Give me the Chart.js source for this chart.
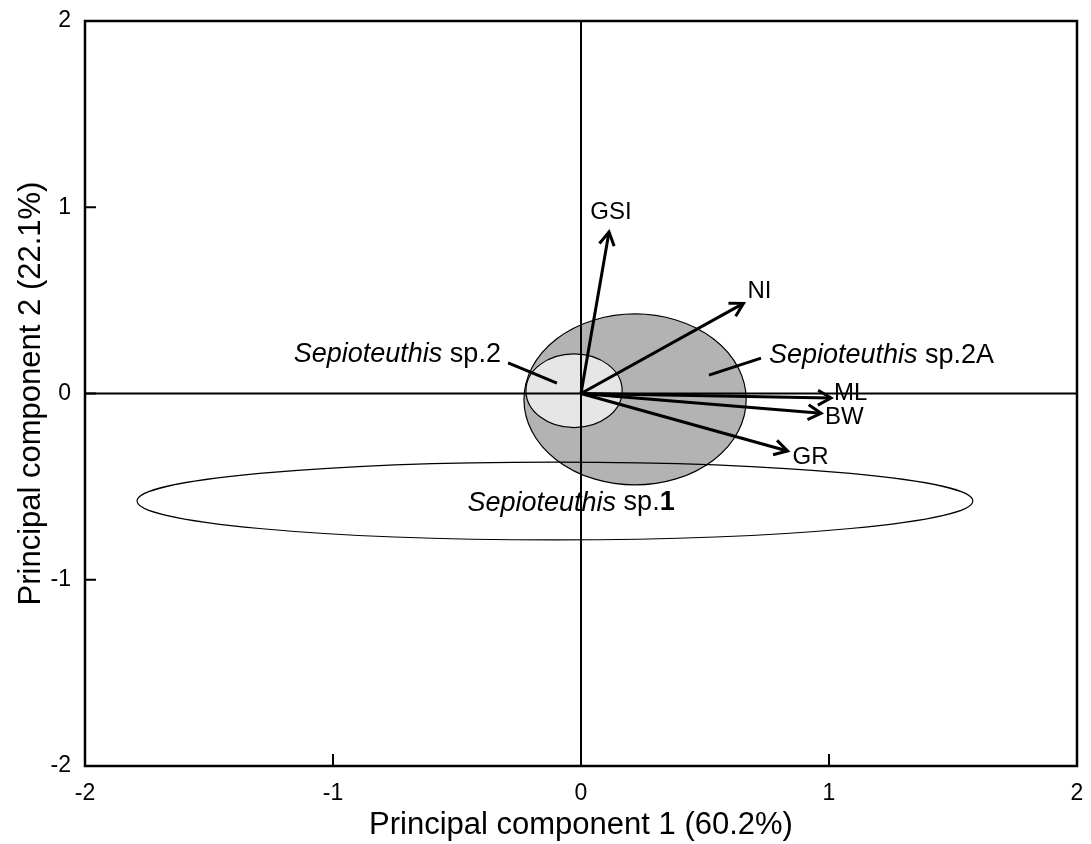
<!DOCTYPE html>
<html><head><meta charset="utf-8">
<script src="https://cdn.jsdelivr.net/npm/chart.js@4/dist/chart.umd.min.js"></script>
<style>html,body{margin:0;padding:0;background:#fff}#wrap{width:1091px;height:844px;position:relative}</style>
</head><body><div id="wrap"><canvas id="c"></canvas></div>
<script>
// ---- data ----
const variables = ['GSI', 'NI', 'ML', 'BW', 'GR'];
const pc1Loadings = [0.113, 0.655, 1.008, 0.968, 0.833];
const pc2Loadings = [0.867, 0.484, -0.024, -0.106, -0.309];
const groupNames = ['sp.1', 'sp.2', 'sp.2A'];
const groupCenterX = [-0.105, -0.028, 0.218];
const groupCenterY = [-0.577, 0.015, -0.032];
const groupRadiusX = [1.685, 0.194, 0.448];
const groupRadiusY = [0.209, 0.198, 0.459];
const xTickValues = [-2, -1, 0, 1, 2];
const yTickValues = [-2, -1, 0, 1, 2];
const xTitle = 'Principal component 1 (60.2%)';
const yTitle = 'Principal component 2 (22.1%)';

// ---- styles ----
const FONT = "'Liberation Sans', Arial, Helvetica, sans-serif";
Chart.defaults.font.family = FONT;
Chart.defaults.color = '#000';
const groupFill = [null, '#e6e6e6', '#b3b3b3'];
const groupDrawOrder = [2, 1, 0];
const labelOffsets = { GSI: [2, -20, 'center'], NI: [4, -12, 'left'], ML: [3, -5, 'left'], BW: [4, 4, 'left'], GR: [5, 6, 'left'] };
// species annotations: text anchor (data units), alignment, pointer line (data units)
const speciesNotes = [
  { g: 0, tx: -0.04, ty: -0.588, align: 'center', line: null, boldTail: true },
  { g: 1, tx: -0.323, ty: 0.21, align: 'right', line: [-0.294, 0.164, -0.097, 0.056] },
  { g: 2, tx: 0.758, ty: 0.205, align: 'left', line: [0.516, 0.099, 0.726, 0.19] }
];

function arrowHead(ctx, x0, y0, x1, y1, len, ang) {
  const a = Math.atan2(y1 - y0, x1 - x0);
  ctx.beginPath();
  ctx.moveTo(x1 - len * Math.cos(a - ang), y1 - len * Math.sin(a - ang));
  ctx.lineTo(x1, y1);
  ctx.lineTo(x1 - len * Math.cos(a + ang), y1 - len * Math.sin(a + ang));
  ctx.stroke();
}

const overlay = {
  id: 'overlay',
  beforeDatasetsDraw(chart) {
    const { ctx, chartArea: a, scales: { x, y } } = chart;
    ctx.save();
    groupDrawOrder.forEach(i => {
      const cx = x.getPixelForValue(groupCenterX[i]);
      const cy = y.getPixelForValue(groupCenterY[i]);
      const rx = Math.abs(x.getPixelForValue(groupCenterX[i] + groupRadiusX[i]) - cx);
      const ry = Math.abs(y.getPixelForValue(groupCenterY[i] + groupRadiusY[i]) - cy);
      ctx.beginPath();
      ctx.ellipse(cx, cy, rx, ry, 0, 0, Math.PI * 2);
      if (groupFill[i]) { ctx.fillStyle = groupFill[i]; ctx.fill(); }
      ctx.lineWidth = 1.2; ctx.strokeStyle = '#000'; ctx.stroke();
    });
    // zero lines
    ctx.lineWidth = 2; ctx.strokeStyle = '#000';
    const x0 = x.getPixelForValue(0), y0 = y.getPixelForValue(0);
    ctx.beginPath();
    ctx.moveTo(a.left, y0); ctx.lineTo(a.right, y0);
    ctx.moveTo(x0, a.top); ctx.lineTo(x0, a.bottom);
    ctx.stroke();
    ctx.restore();
  },
  afterDatasetsDraw(chart) {
    const { ctx, chartArea: a, scales: { x, y } } = chart;
    ctx.save();
    ctx.strokeStyle = '#000'; ctx.fillStyle = '#000';
    ctx.lineWidth = 3; ctx.lineJoin = 'miter'; ctx.lineCap = 'butt';
    const ox = x.getPixelForValue(0), oy = y.getPixelForValue(0);
    variables.forEach((v, i) => {
      const px = x.getPixelForValue(pc1Loadings[i]);
      const py = y.getPixelForValue(pc2Loadings[i]);
      arrowHead(ctx, ox, oy, px, py, 15, 0.52);
      const o = labelOffsets[v];
      ctx.font = '24px ' + FONT;
      ctx.textAlign = o[2]; ctx.textBaseline = 'middle';
      ctx.fillText(v, px + o[0], py + o[1]);
    });
    // species notes
    speciesNotes.forEach(n => {
      const name = groupNames[n.g];
      const tx = x.getPixelForValue(n.tx), ty = y.getPixelForValue(n.ty);
      const fI = 'italic 27px ' + FONT, fN = '27px ' + FONT, fB = 'bold 27px ' + FONT;
      const genus = 'Sepioteuthis';
      let headTxt = ' ' + name, tailTxt = '';
      if (n.boldTail) { headTxt = ' sp.'; tailTxt = name.replace('sp.', ''); }
      ctx.font = fI; const w1 = ctx.measureText(genus).width;
      ctx.font = fN; const w2 = ctx.measureText(headTxt).width;
      ctx.font = fB; const w3 = tailTxt ? ctx.measureText(tailTxt).width : 0;
      const tw = w1 + w2 + w3;
      let sx = tx;
      if (n.align === 'center') sx = tx - tw / 2;
      else if (n.align === 'right') sx = tx - tw;
      ctx.textAlign = 'left'; ctx.textBaseline = 'middle';
      ctx.font = fI; ctx.fillText(genus, sx, ty);
      ctx.font = fN; ctx.fillText(headTxt, sx + w1, ty);
      if (tailTxt) { ctx.font = fB; ctx.fillText(tailTxt, sx + w1 + w2, ty); }
      if (n.line) {
        ctx.lineWidth = 3;
        ctx.beginPath();
        ctx.moveTo(x.getPixelForValue(n.line[0]), y.getPixelForValue(n.line[1]));
        ctx.lineTo(x.getPixelForValue(n.line[2]), y.getPixelForValue(n.line[3]));
        ctx.stroke();
      }
    });
    // frame
    ctx.lineWidth = 2.5;
    ctx.strokeRect(a.left, a.top, a.right - a.left, a.bottom - a.top);
    // inward ticks
    ctx.lineWidth = 2;
    ctx.beginPath();
    xTickValues.slice(1, -1).forEach(v => {
      const px = x.getPixelForValue(v);
      ctx.moveTo(px, a.bottom); ctx.lineTo(px, a.bottom - 12);
    });
    yTickValues.slice(1, -1).forEach(v => {
      const py = y.getPixelForValue(v);
      ctx.moveTo(a.left, py); ctx.lineTo(a.left + 11, py);
    });
    ctx.stroke();
    ctx.restore();
  }
};

const datasets = variables.map((v, i) => ({
  label: v,
  data: [{ x: 0, y: 0 }, { x: pc1Loadings[i], y: pc2Loadings[i] }],
  showLine: true,
  borderColor: '#000',
  borderWidth: 3,
  pointRadius: 0,
  fill: false
}));

new Chart(document.getElementById('c'), {
  type: 'scatter',
  data: { datasets },
  options: {
    responsive: true,
    maintainAspectRatio: false,
    animation: false,
    layout: { padding: { left: 0, top: 21, right: 14, bottom: 0 } },
    plugins: { legend: { display: false }, tooltip: { enabled: false } },
    scales: {
      x: {
        type: 'linear', min: -2, max: 2,
        afterBuildTicks: s => { s.ticks = xTickValues.map(v => ({ value: v })); },
        afterFit: s => { s.height = 78; s.paddingLeft = 0; s.paddingRight = 0; },
        grid: { display: false, drawTicks: false },
        border: { display: false },
        ticks: { padding: 14, font: { size: 23 }, color: '#000', maxRotation: 0 },
        title: { display: true, text: xTitle, font: { size: 31 }, color: '#000', padding: { top: 0, bottom: 0 } }
      },
      y: {
        type: 'linear', min: -2, max: 2,
        afterBuildTicks: s => { s.ticks = yTickValues.map(v => ({ value: v })); },
        afterFit: s => { s.width = 85; s.paddingTop = 0; s.paddingBottom = 0; },
        grid: { display: false, drawTicks: false },
        border: { display: false },
        ticks: { padding: 14, font: { size: 23 }, color: '#000' },
        title: { display: true, text: yTitle, font: { size: 31 }, color: '#000', padding: { top: 13, bottom: 0 } }
      }
    }
  },
  plugins: [overlay]
});
</script>
</body></html>
